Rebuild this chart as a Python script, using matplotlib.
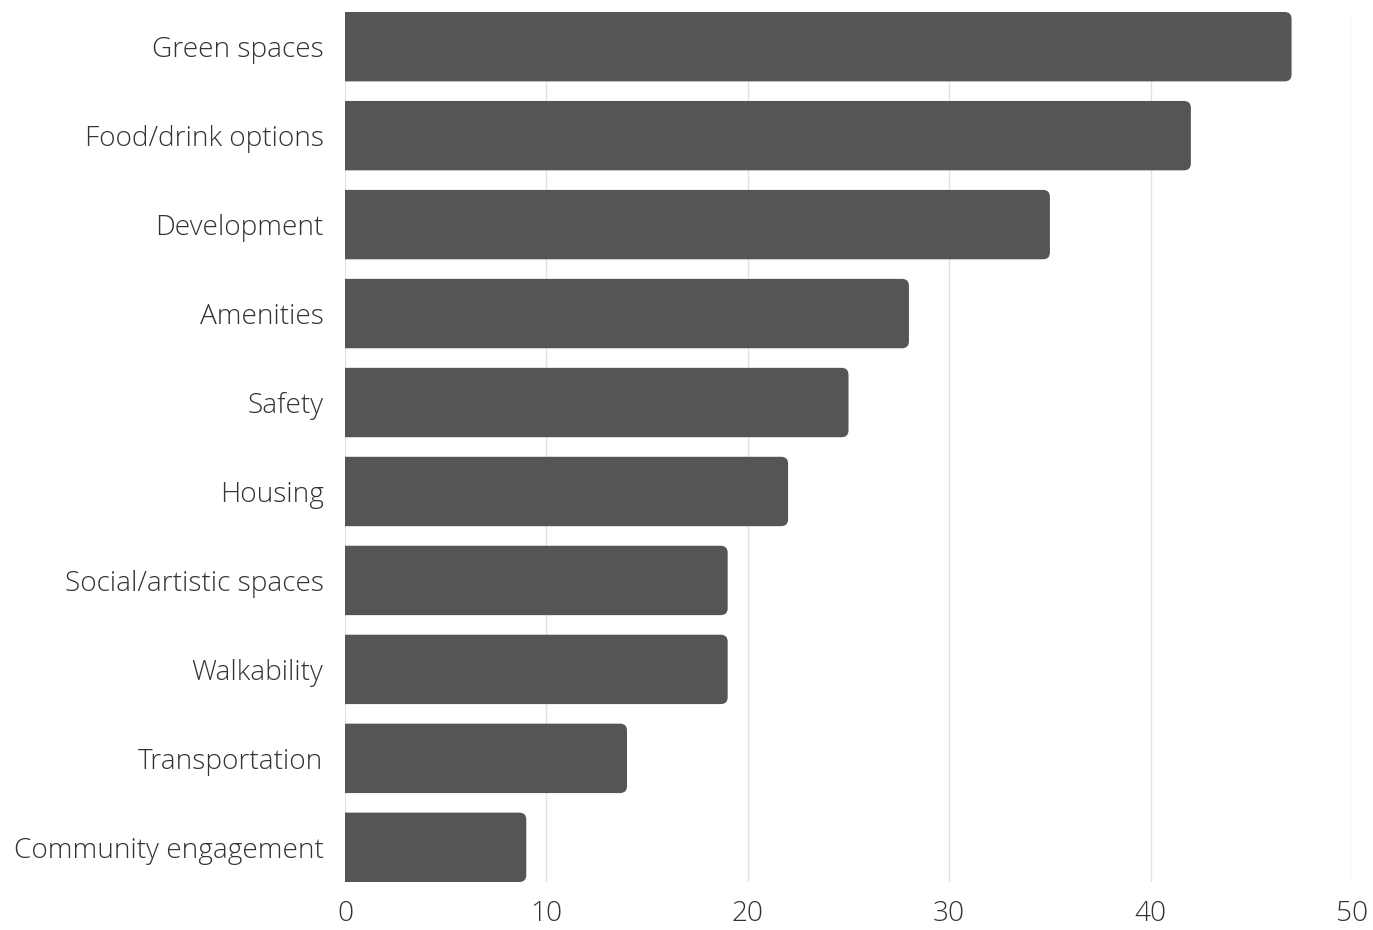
import matplotlib.pyplot as plt
from matplotlib.patches import FancyBboxPatch

# data
categories = ["Green spaces", "Food/drink options", "Development", "Amenities", "Safety",
              "Housing", "Social/artistic spaces", "Walkability", "Transportation",
              "Community engagement"]
values = [47, 42, 35, 28, 25, 22, 19, 19, 14, 9]
xticks = [0, 10, 20, 30, 40, 50]

plt.rcParams['font.family'] = ['Open Sans', 'DejaVu Sans']
plt.rcParams['font.weight'] = 'light'

fig = plt.figure(figsize=(13.73, 9.3), dpi=100)
ax = fig.add_axes([0.2513, 0.0516, 0.7334, 0.9355])

h = 0.78
for i, v in enumerate(values):
    # start left of zero so only the right end shows rounded corners
    box = FancyBboxPatch((-1, i - h / 2), v + 1, h,
                         boxstyle="round,pad=0,rounding_size=0.35",
                         mutation_aspect=0.22, fc='#555555', ec='none', zorder=3)
    ax.add_patch(box)

ax.set_xlim(0, 50)
ax.set_ylim(len(values) - 1 + h / 2, -h / 2)
ax.set_xticks(xticks)
ax.set_yticks(range(len(categories)))
ax.set_yticklabels(categories)
ax.grid(axis='x', color='#e2e2e2', linewidth=1, zorder=0)
ax.set_axisbelow(True)
for s in ax.spines.values():
    s.set_visible(False)
ax.tick_params(length=0, labelsize=20.2, labelcolor='#333333')
ax.tick_params(axis='y', pad=15.5)
ax.tick_params(axis='x', pad=13)

fig.savefig('out.png')
